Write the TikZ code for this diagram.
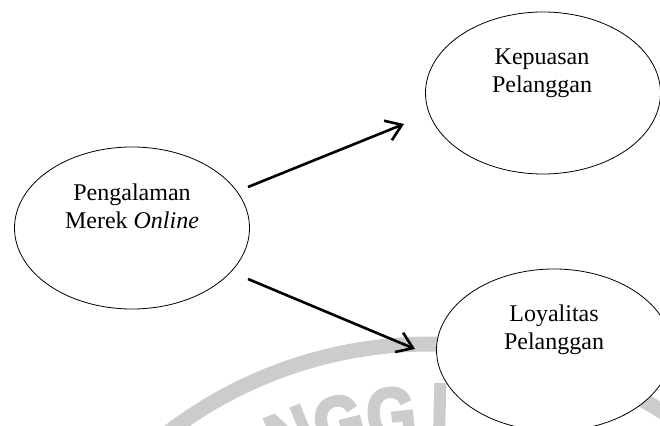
\documentclass[tikz,border=0pt]{standalone}
\usepackage{fontspec}
\setmainfont{Liberation Serif}
\newfontfamily\wmfont[FakeStretch=0.84, FakeBold=4]{Liberation Sans Bold}
\usetikzlibrary{shapes.geometric,arrows.meta}
\tikzset{
  x=1pt, y=1pt,
  bubble/.style={ellipse, draw=black, line width=0.8pt, fill=white,
    minimum width=235pt, minimum height=162pt, inner sep=0pt},
  lbl/.style={anchor=base, inner sep=0pt, font=\fontsize{24}{28}\selectfont},
  arr/.style={line width=2.6pt, -{Straight Barb[length=15pt,width=21pt]}},
  wmband/.style={draw=black!20, line width=15pt},
  wmletter/.style={anchor=north, inner sep=0pt, outer sep=0pt, text=black!20,
    font=\wmfont\fontsize{75}{75}\selectfont}
}
\begin{document}
\begin{tikzpicture}
\useasboundingbox (0,0) rectangle (660,425);
% watermark
\begin{scope}
  \clip (0,0) rectangle (660,425);
  \coordinate (wc) at (430,-351);
  \draw[wmband] (wc) circle (432);
  \coordinate (wp1) at (281.8,12.7);
  \coordinate (wp2) at (332.5,27.7);
  \coordinate (wp3) at (388.3,36.8);
  \coordinate (wp4) at (440.3,40.5);
  \node[wmletter, rotate=21.9] (w1) at (wp1) {\vphantom{N}N};
  \node[wmletter, rotate=14.4] (w2) at (wp2) {\vphantom{N}G};
  \node[wmletter, rotate=6.1] (w3) at (wp3) {\vphantom{N}G};
  \node[wmletter, rotate=-1.5] (w4) at (wp4) {\vphantom{N}I};
\end{scope}
% ellipses
\node[bubble] (pm) at (132,197) {};
\node[bubble] (kp) at (543,332) {};
\node[bubble] (lp) at (554,75) {};
% labels
\node[lbl] (pm1) at (132,224) {Pengalaman};
\node[lbl] (pm2) at (132,196) {Merek \textit{Online}};
\node[lbl] (kp1) at (542,360) {Kepuasan};
\node[lbl] (kp2) at (542,332) {Pelanggan};
\node[lbl] (lp1) at (554,103) {Loyalitas};
\node[lbl] (lp2) at (554,75) {Pelanggan};
% connectors
\coordinate (a1s) at (248,238);
\coordinate (a1e) at (404,301);
\coordinate (a2s) at (248,146);
\coordinate (a2e) at (415,76);
\draw[arr] (a1s) -- (a1e);
\draw[arr] (a2s) -- (a2e);
\end{tikzpicture}
\end{document}
